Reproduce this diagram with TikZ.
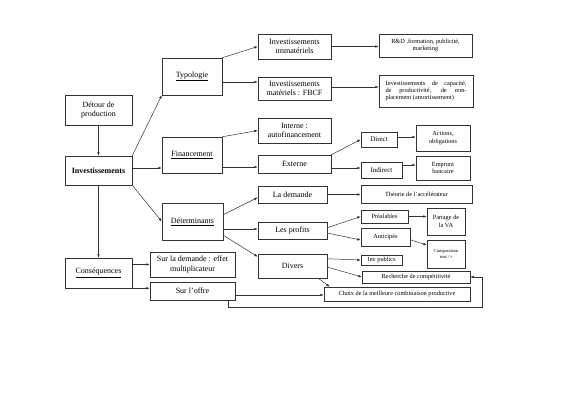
\documentclass[tikz,border=0pt]{standalone}
\usepackage{fontspec}
\setmainfont{Liberation Serif}
\usetikzlibrary{calc,arrows.meta}
\tikzset{
 sz/.style 2 args={minimum width=#1pt, minimum height=#2pt},
 bx/.style={draw=black!80, line width=0.5pt, align=center, inner sep=1pt, font=\fontsize{8}{9.5}\selectfont},
 sm/.style={bx, font=\fontsize{6.3}{7.3}\selectfont},
 tn/.style={bx, font=\fontsize{4.6}{5.6}\selectfont},
 arr/.style={draw=black!80, line width=0.5pt, -{Latex[length=3.5pt,width=2.6pt]}},
 ln/.style={draw=black!80, line width=0.5pt},
}
\begin{document}
\begin{tikzpicture}[x=1pt,y=-1pt]
\useasboundingbox[fill=white] (0,0) rectangle (566,400);
% column 1
\node[bx, sz={67}{30}] (detour) at (98.5,110) {Détour de\\production};
\node[bx, sz={67}{29}] (inv) at (98.5,170.5) {\textbf{Investissements}};
\node[bx, sz={67}{30}] (cons) at (98.5,273) {\underline{Conséquences}};
% column 2
\node[bx, sz={60}{37}] (typo) at (192,76.5) {\underline{Typologie}};
\node[bx, sz={60}{36}] (fin) at (192,155) {\underline{Financement}};
\node[bx, sz={61}{37}] (det) at (192.5,221.5) {\underline{Déterminants}};
\node[bx, sz={85}{25}] (surdem) at (192.5,264.5) {Sur la demande : effet\\multiplicateur};
\node[bx, sz={85}{18}] (suroffre) at (192.5,291) {Sur l'offre};
% column 3
\node[bx, sz={73}{25}] (immat) at (294.5,46.5) {Investissements\\immatériels};
\node[bx, sz={73}{23}] (mat) at (294.5,88.5) {Investissements\\matériels : FBCF};
\node[bx, sz={73}{25}] (interne) at (294.5,130.5) {Interne :\\autofinancement};
\node[bx, sz={73}{18}] (externe) at (294.5,164) {Externe};
\node[bx, sz={69}{17}] (demande) at (292.5,194.5) {La demande};
\node[bx, sz={69}{17}] (profits) at (292.5,230.5) {Les profits};
\node[bx, sz={69}{24}] (divers) at (292.5,266) {Divers};
% column 4
\node[sm, sz={93}{23}] (rd) at (425.5,45.5) {R\&D ,formation, publicité,\\marketing};
\node[sm, sz={94}{32}, align=left] (cap) at (426,91) {\makebox[81pt][s]{Investissements de capacité,}\\\makebox[81pt][s]{de productivité, de rem-}\\placement (amortissement)};
\node[bx, sz={36}{15}, font=\fontsize{7}{8}\selectfont] (direct) at (379,139.5) {Direct};
\node[bx, sz={41}{16}, font=\fontsize{7}{8}\selectfont] (indirect) at (381.5,170) {Indirect};
\node[sm, sz={54}{26}] (actions) at (443,138) {Actions,\\obligations};
\node[sm, sz={54}{24}] (emprunt) at (443,168) {Emprunt\\bancaire};
\node[sm, sz={111}{18}] (theorie) at (416.5,194) {Théorie de l'accélérateur};
\node[sm, sz={47}{13}] (prealables) at (384.5,216.5) {Préalables};
\node[sm, sz={49}{18}] (anticipes) at (385.5,237) {Anticipés};
\node[sm, sz={38}{27}] (partage) at (446,221.5) {Partage de\\la VA};
\node[tn, sz={38}{28}] (compar) at (446,254) {Comparaison\\rmc / r};
\node[sm, sz={41}{10}, inner sep=0.5pt] (invpub) at (381.5,260) {Inv publics};
\node[sm, sz={108}{12}, inner sep=0.5pt] (recherche) at (416,277) {Recherche de compétitivité};
\node[sm, sz={146}{14}, inner sep=0.5pt] (choix) at (397,294) {Choix de la meilleure combinaison productive};
% connectors from column 1
\draw[arr] (detour.south) -- (inv.north);
\draw[arr] (inv.north east) -- (typo.south west);
\draw[arr] ($(inv.east)+(0,-2.5)$) -- ($(inv.east -| fin.west)+(0,-2.5)$);
\draw[arr] (inv.south east) -- (det.west);
\draw[arr] (inv.south) -- (cons.north);
% typologie
\draw[arr] (typo.north east) -- (immat.west);
\coordinate (m1) at ($(mat.west)+(0,-6.5)$);
\draw[arr] (typo.east |- m1) -- (m1);
\draw[arr] (immat.east) -- (immat.east -| rd.west);
\coordinate (c1) at ($(cap.west)+(0,-4)$);
\draw[arr] (mat.east |- c1) -- (c1);
% financement
\draw[arr] (fin.north east) -- (interne.west);
\coordinate (e1) at ($(externe.west)+(0,3)$);
\draw[arr] (fin.east |- e1) -- (e1);
\draw[arr] (externe.north east) -- (direct.west);
\coordinate (i1) at ($(indirect.west)+(0,-2)$);
\draw[arr] (externe.east |- i1) -- (i1);
\coordinate (a1) at ($(actions.west)+(0,-1)$);
\draw[arr] (direct.east |- a1) -- (a1);
\coordinate (b1) at ($(emprunt.west)+(0,-3)$);
\draw[arr] (indirect.east |- b1) -- (b1);
% determinants
\draw[arr] ($(det.north east)+(0,12)$) -- ($(demande.west)+(0,3)$);
\coordinate (p1) at ($(profits.west)+(0,-1.5)$);
\draw[arr] (det.east |- p1) -- (p1);
\draw[arr] ($(det.south east)+(0,-5)$) -- ($(divers.north west)+(0,3)$);
\draw[arr] (demande.east) -- (demande.east -| theorie.west);
\draw[arr] ($(profits.north east)+(0,6)$) -- (prealables.west);
\draw[arr] ($(profits.east)+(0,2.5)$) -- ($(anticipes.west)+(0,3)$);
\draw[arr] (prealables.east) -- (prealables.east -| partage.west);
\draw[arr] ($(anticipes.north east)+(0,12)$) -- ($(compar.west)+(0,-9)$);
\draw[arr] ($(divers.north east)+(0,5)$) -- (invpub.west);
\draw[arr] ($(divers.east)+(0,1)$) -- (recherche.west);
\draw[arr] ($(divers.south east)+(-9,0)$) -- ($(choix.north west)+(6,0)$);
% consequences
\draw[arr] (cons.east |- surdem.west) -- (surdem.west);
\draw[arr] (cons.south east) -- (cons.south east -| suroffre.west);
\coordinate (o1) at ($(choix.west)+(0,1)$);
\draw[arr] (suroffre.east |- o1) -- (o1);
\coordinate (r1) at ($(recherche.east)+(12,0)$);
\draw[arr] ($(suroffre.south east)+(-7,0)$) -- ++(0,7) -| (r1) -- (recherche.east);
\end{tikzpicture}
\end{document}
